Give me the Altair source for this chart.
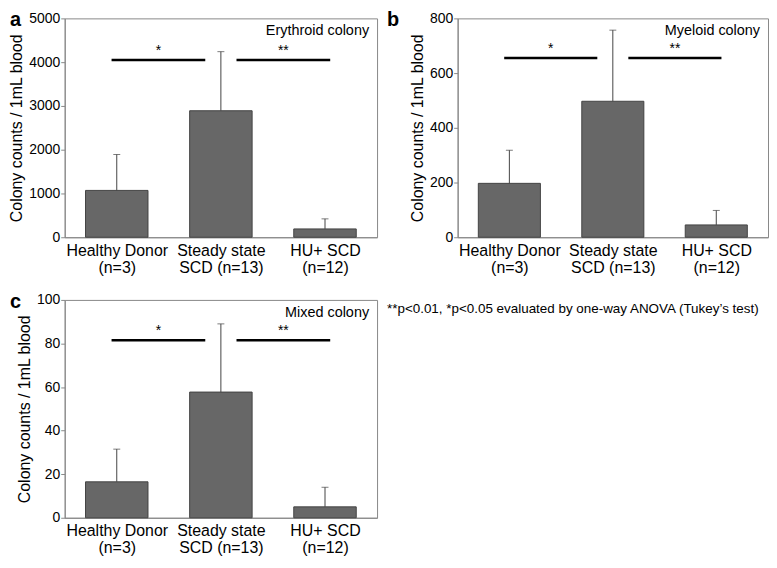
import json
import altair as alt
import pandas as pd

FONT = "Liberation Sans"

# ---- data ----
groups = ["Healthy Donor", "Steady state", "HU+ SCD"]
group_sub = ["(n=3)", "SCD (n=13)", "(n=12)"]
group_pos = [0.5, 1.5, 2.5]

ery_mean = [1070, 2890, 190]
ery_upper = [1890, 4240, 420]
mye_mean = [197, 497, 45]
mye_upper = [318, 757, 98]
mix_mean = [16.5, 57.7, 5]
mix_upper = [31.5, 89, 14]

sig_start = [0.45, 1.65]
sig_end = [1.35, 2.55]
sig_label = ["*", "**"]
ery_sig_y = 4050
mye_sig_y = 655
mix_sig_y = 81.5

ery_ticks = [0, 1000, 2000, 3000, 4000, 5000]
mye_ticks = [0, 200, 400, 600, 800]
mix_ticks = [0, 20, 40, 60, 80, 100]

y_title = "Colony counts / 1mL blood"
footnote = "**p<0.01, *p<0.05 evaluated by one-way ANOVA (Tukey\u2019s test)"

label_expr = " : ".join(
    f"abs(datum.value - {p}) < 0.01 ? {json.dumps([g, s])}"
    for p, g, s in zip(group_pos, groups, group_sub)
) + " : ''"


def panel(means, uppers, sig_y, ticks, inset, letter, letter_dx, width, height):
    df = pd.DataFrame({"pos": group_pos, "mean": means, "upper": uppers})
    sig = pd.DataFrame({"x0": sig_start, "x1": sig_end, "lab": sig_label})
    sig["y"] = sig_y
    sig["mid"] = (sig["x0"] + sig["x1"]) / 2
    ins = pd.DataFrame({"t": [inset], "x": [3.0], "y": [ticks[-1]]})

    xs = alt.Scale(domain=[0, 3], nice=False, zero=False)
    ys = alt.Scale(domain=[ticks[0], ticks[-1]], nice=False)
    xaxis = alt.Axis(values=group_pos, ticks=False, labelExpr=label_expr,
                     labelFontSize=16, labelLineHeight=17, labelPadding=5,
                     labelColor="black", title=None, grid=False, domainColor="#888888")
    yaxis = alt.Axis(values=ticks, format="d", title=y_title, labelFontSize=14,
                     titleFontSize=16, titleFontWeight="normal", titleColor="black",
                     labelColor="black", tickSize=4, tickColor="#888888",
                     domainColor="#888888", grid=False, titlePadding=4, labelPadding=1)

    base = alt.Chart(df)
    bars = base.transform_calculate(
        x0="datum.pos - 0.3", x1="datum.pos + 0.3", zero="0"
    ).mark_bar(color="#676767", stroke="#444444", strokeWidth=1).encode(
        x=alt.X("x0:Q", scale=xs, axis=xaxis),
        x2="x1:Q",
        y=alt.Y("mean:Q", scale=ys, axis=yaxis),
        y2="zero:Q",
    )
    err = base.mark_rule(color="#444444", strokeWidth=1).encode(
        x="pos:Q", y="mean:Q", y2="upper:Q")
    cap = base.mark_tick(orient="horizontal", size=7, thickness=1, color="#444444").encode(
        x="pos:Q", y="upper:Q")
    sig_lines = alt.Chart(sig).mark_rule(color="black", strokeWidth=2.5).encode(
        x="x0:Q", x2="x1:Q", y="y:Q")
    stars = alt.Chart(sig).mark_text(baseline="bottom", dy=-2, fontSize=14, font=FONT).encode(
        x="mid:Q", y="y:Q", text="lab:N")
    inset_t = alt.Chart(ins).mark_text(align="right", baseline="top", dx=-8, dy=6,
                                       fontSize=14.5, font=FONT).encode(
        x="x:Q", y="y:Q", text="t:N")
    letter_t = alt.Chart(pd.DataFrame({"t": [letter]})).mark_text(
        align="left", baseline="alphabetic", fontSize=20, fontWeight="bold", font=FONT
    ).encode(text="t:N", x=alt.value(letter_dx), y=alt.value(8))
    return alt.layer(bars, err, cap, sig_lines, stars, inset_t, letter_t).properties(
        width=width, height=height)


pa = panel(ery_mean, ery_upper, ery_sig_y, ery_ticks, "Erythroid colony", "a", -55, 314, 220)
pb = panel(mye_mean, mye_upper, mye_sig_y, mye_ticks, "Myeloid colony", "b", -71, 312, 220)
pc = panel(mix_mean, mix_upper, mix_sig_y, mix_ticks, "Mixed colony", "c", -55, 314, 219)

note = alt.Chart(pd.DataFrame({"t": [footnote]})).mark_text(
    align="left", baseline="top", fontSize=13.5, font=FONT
).encode(text="t:N", x=alt.value(0), y=alt.value(2)).properties(
    width=360, height=20, view=alt.ViewBackground(stroke="transparent"))

chart = alt.vconcat(
    alt.hconcat(pa, pb, spacing=8),
    alt.hconcat(pc, note, spacing=8),
    spacing=15,
).properties(padding=0).configure(font=FONT).configure_view(
    stroke="#888888", strokeWidth=1
)

chart.save("out.html", embed_options={"renderer": "svg", "actions": False})
